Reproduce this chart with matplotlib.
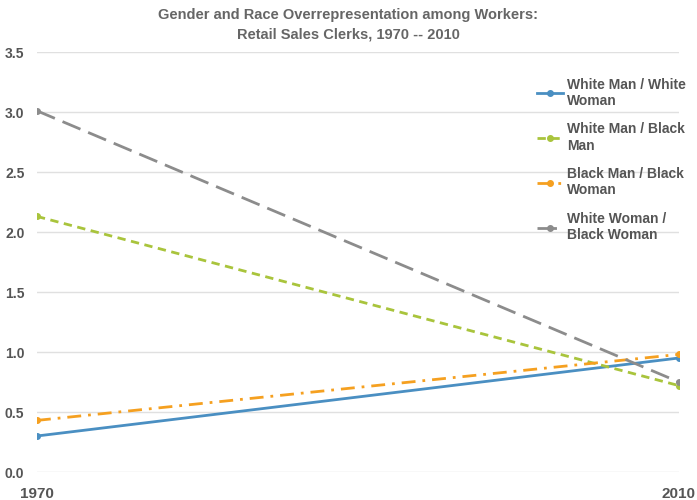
import matplotlib.pyplot as plt
import numpy as np

plt.rcParams['font.family'] = ['Liberation Sans', 'DejaVu Sans']

years = [1970, 2010]
wm_ww = [0.30, 0.95]
wm_bm = [2.13, 0.72]
bm_bw = [0.43, 0.98]
ww_bw = [3.01, 0.75]

labels = ['White Man / White\nWoman', 'White Man / Black\nMan',
          'Black Man / Black\nWoman', 'White Woman /\nBlack Woman']

fig = plt.figure(figsize=(6.97, 5), dpi=100)
ax = fig.add_axes([0.053, 0.056, 0.921, 0.84])

ax.plot(years, wm_ww, color='#4a8fc2', lw=2, marker='o', ms=4, label=labels[0])
ax.plot(years, wm_bm, color='#a9c43c', lw=2, ls=(0, (3, 2)), marker='o', ms=4, label=labels[1])
ax.plot(years, bm_bw, color='#f5a020', lw=2, ls=(0, (5, 2.5, 1, 2.5)), marker='o', ms=4, label=labels[2])
ax.plot(years, ww_bw, color='#8c8c8c', lw=2, ls=(0, (7, 3)), marker='o', ms=4, label=labels[3])

ax.set_xlim(1970, 2010)
ax.set_ylim(0, 3.5)
ax.set_yticks(np.arange(0, 3.51, 0.5))
ax.set_yticklabels(['%.1f' % v for v in np.arange(0, 3.51, 0.5)])
ax.set_xticks(years)
ax.set_xticklabels(['1970', '2010'])

ax.grid(axis='y', color='#e0e0e0', lw=1)
ax.set_axisbelow(True)
for s in ax.spines.values():
    s.set_visible(False)
ax.tick_params(length=0)
ax.tick_params(axis='y', pad=9, labelsize=10, labelcolor='#555555')
ax.tick_params(axis='x', pad=11, labelsize=11, labelcolor='#555555')
for t in ax.get_yticklabels():
    t.set_fontweight('bold')
for t in ax.get_xticklabels():
    t.set_fontweight('bold')

leg = ax.legend(loc='upper left', bbox_to_anchor=(0.759, 0.969), frameon=False,
                handlelength=1.9, handletextpad=0.3, labelspacing=1.05,
                prop={'size': 10, 'weight': 'bold'})
for t in leg.get_texts():
    t.set_color('#555555')

fig.suptitle('Gender and Race Overrepresentation among Workers:\nRetail Sales Clerks, 1970 -- 2010',
             y=0.985, fontsize=10.5, fontweight='bold', color='#666666', linespacing=1.55)

fig.savefig('out.png', dpi=100)
